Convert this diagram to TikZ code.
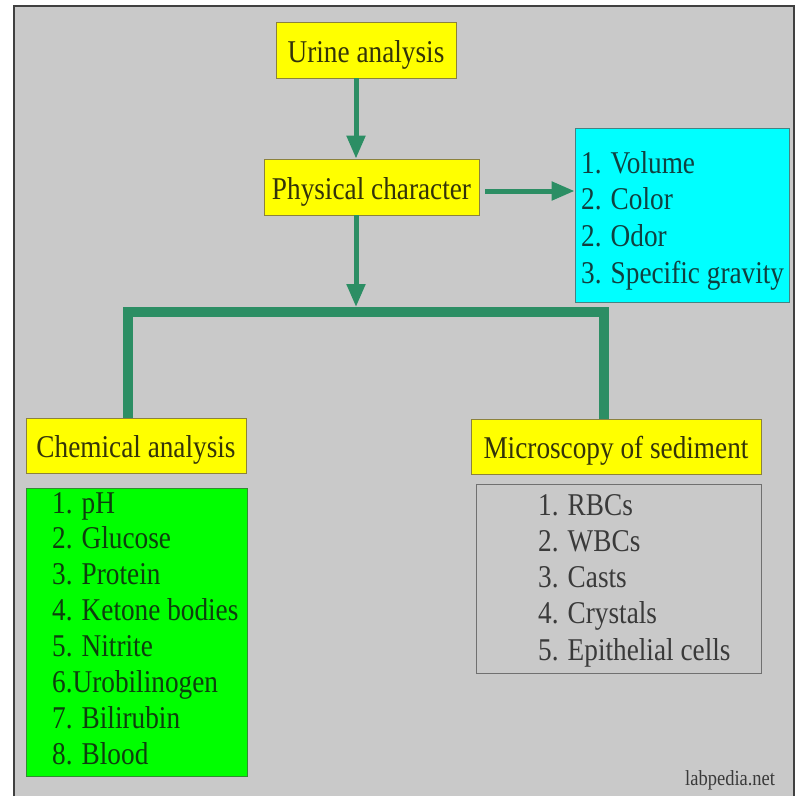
\documentclass[tikz,border=0pt]{standalone}
\usepackage{fontspec}
\setmainfont{Liberation Serif}[FakeStretch=0.86]
\usetikzlibrary{arrows.meta}

\definecolor{panelgray}{RGB}{201,201,201}
\definecolor{framegray}{RGB}{64,64,64}
\definecolor{flowgreen}{RGB}{44,142,100}
\definecolor{boxyellow}{RGB}{255,255,0}
\definecolor{yellowedge}{RGB}{140,130,60}
\definecolor{yellowtext}{RGB}{51,51,10}
\definecolor{boxcyan}{RGB}{0,255,255}
\definecolor{cyanedge}{RGB}{70,130,130}
\definecolor{cyantext}{RGB}{16,64,64}
\definecolor{boxgreen}{RGB}{0,255,0}
\definecolor{greenedge}{RGB}{50,140,50}
\definecolor{greentext}{RGB}{14,62,14}
\definecolor{listedge}{RGB}{112,112,112}
\definecolor{listtext}{RGB}{58,58,58}

\tikzset{
  bigfont/.style={font=\fontsize{31.7}{36}\selectfont},
  headbox/.style={bigfont, draw=yellowedge, fill=boxyellow, text=yellowtext,
    line width=0.8pt, inner sep=0pt, text height=24pt, text depth=0pt},
  listbox/.style={draw=#1, line width=0.8pt, inner sep=0pt},
  item/.style={bigfont, anchor=base west, inner sep=0pt},
  flowarrow/.style={draw=flowgreen, line width=5pt, -{Triangle[width=18pt,length=23pt]}},
  flowbar/.style={draw=flowgreen, line width=10pt}
}

\begin{document}
\begin{tikzpicture}[x=1pt,y=-1pt]
	\useasboundingbox (0,0) rectangle (801,796);
	% fond
	\fill [panelgray] (14,6) rectangle (794,796);
	\draw [framegray,line width=1.5pt] (14,796) -- (14,6) -- (794,6) -- (794,796);

	% titres
	\node [headbox,minimum width=180pt,minimum height=56pt] (urine) at (366,50) {Urine analysis};
	\node [headbox,minimum width=215pt,minimum height=56pt] (phys) at (371.5,187) {Physical character};
	\node [headbox,minimum width=220pt,minimum height=55pt] (chem) at (136,445.5) {Chemical analysis};
	\node [headbox,minimum width=290pt,minimum height=55pt] (micro) at (616,446.5) {Microscopy of sediment};

	% listes
	\node [listbox=cyanedge,fill=boxcyan,minimum width=214pt,minimum height=174pt] (physlist) at (682,215) {};
	\foreach \txt [count=\i] in {1. Volume, 2. Color, 2. Odor, 3. Specific gravity}
		\node [item,text=cyantext] (physitem-\i) at (581,{173+36.7*(\i-1)}) {\txt};

	\node [listbox=greenedge,fill=boxgreen,minimum width=221pt,minimum height=288pt] (chemlist) at (136.5,632) {};
	\foreach \txt [count=\i] in {1. pH, 2. Glucose, 3. Protein, 4. Ketone bodies, 5. Nitrite, 6.Urobilinogen, 7. Bilirubin, 8. Blood}
		\node [item,text=greentext] (chemitem-\i) at (52,{513+35.86*(\i-1)}) {\txt};

	\node [listbox=listedge,minimum width=285pt,minimum height=189pt] (microlist) at (618.5,578.5) {};
	\foreach \txt [count=\i] in {1. RBCs, 2. WBCs, 3. Casts, 4. Crystals, 5. Epithelial cells}
		\node [item,text=listtext] (microitem-\i) at (538,{515+36.25*(\i-1)}) {\txt};

	% fleches
	\coordinate (split) at (356,312);
	\draw [flowarrow] ([xshift=-10pt]urine.south) -- ([xshift=-10pt]urine.south |- phys.north);
	\draw [flowarrow] ([xshift=6pt,yshift=-4pt]phys.east) -- ([yshift=-4pt]phys.east -| physlist.west);
	\draw [flowarrow] (split |- phys.south) -- ([yshift=5pt]split);
	\draw [flowbar] ([xshift=-8pt]chem.north) |- (split) -| ([xshift=-12pt]micro.north);

	\node [item,text=listtext,font=\fontsize{21.5}{24}\selectfont] (credit) at (685,785) {labpedia.net};
\end{tikzpicture}
\end{document}
